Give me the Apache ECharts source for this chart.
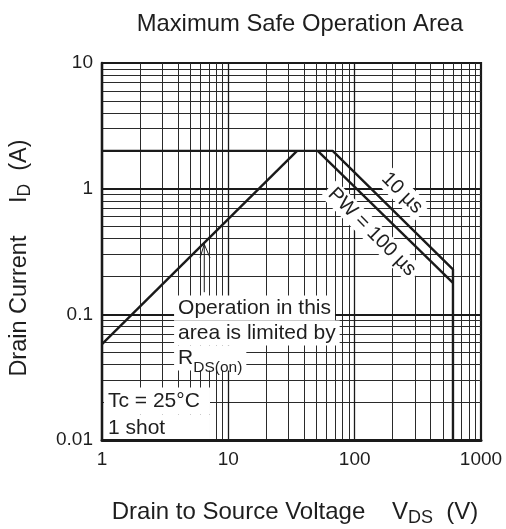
<!DOCTYPE html>
<html><head><meta charset="utf-8">
<script src="https://cdn.jsdelivr.net/npm/echarts@6/dist/echarts.min.js"></script>
<style>html,body{margin:0;padding:0;background:#fff}#c{width:506px;height:529px}</style>
</head><body><div id="c"></div>
<script>
// ---- data ----
const xDecades = [1, 10, 100];
const yDecades = [0.01, 0.1, 1];
const gridMultipliers = [2, 3, 4, 5, 6, 7, 8, 9];
const xMajorLines = [10, 100];
const yMajorLines = [0.1, 1];
const dcLimit = [[1, 0.058], [35, 2]];
const pw10us = [[1, 2], [67, 2], [600, 0.228], [600, 0.01]];
const pw100us = [[51, 2], [600, 0.178]];
const arrowShaft = [[6.45, 0.15], [6.45, 0.361]];
const arrowHead = [[5.97, 0.282], [6.45, 0.361], [7.16, 0.282]];
const curveLabels = [
  { text: '10 \u00b5s', at: [237, 0.924] },
  { text: 'PW = 100 \u00b5s', at: [137, 0.452] }
];
const noteLines = [
  { text: 'Operation in this', at: [3.72, 0.1123] },
  { text: 'area is limited by', at: [3.72, 0.0711] },
  { text: '{n|R}{s|DS(on)}', at: [3.72, 0.0449] }
];
const condLines = [
  { text: 'Tc = 25\u00b0C', at: [1.037, 0.0204] },
  { text: '1 shot', at: [1.037, 0.01247] }
];

// ---- build ----
const minorX = [], minorY = [];
xDecades.forEach(d => gridMultipliers.forEach(m => minorX.push(+(d * m).toPrecision(6))));
yDecades.forEach(d => gridMultipliers.forEach(m => minorY.push(+(d * m).toPrecision(6))));

const FONT = 'Liberation Sans, Arial, sans-serif';
const INK = '#1e1e1e';
const chart = echarts.init(document.getElementById('c'), null, { renderer: 'canvas' });

const gridLineStyle = { color: '#2a2a2a', width: 1, type: 'solid' };
const majorXStyle = { color: '#1a1a1a', width: 1.3, type: 'solid' };
const majorYStyle = { color: '#1a1a1a', width: 1.8, type: 'solid' };
const markLineData = []
  .concat(minorX.map(v => ({ xAxis: v, lineStyle: gridLineStyle })))
  .concat(minorY.map(v => ({ yAxis: v, lineStyle: gridLineStyle })))
  .concat(xMajorLines.map(v => ({ xAxis: v, lineStyle: majorXStyle })))
  .concat(yMajorLines.map(v => ({ yAxis: v, lineStyle: majorYStyle })));

const lineSeries = (data, width) => ({
  type: 'line', data: data, symbol: 'none', silent: true, z: 6,
  lineStyle: { color: '#1a1a1a', width: width || 2.4 }, animation: false
});

const subRich = (size, pad) => ({ fontFamily: FONT, fontSize: size, color: INK, padding: [pad, 0, 0, 0] });

chart.setOption({
  animation: false,
  textStyle: { fontFamily: FONT },
  title: {
    text: 'Maximum Safe Operation Area', left: 295, top: 7, textAlign: 'center',
    textStyle: { fontFamily: FONT, fontSize: 23.8, fontWeight: 'normal', color: INK }
  },
  grid: { left: 102, top: 63, width: 379, height: 377, outerBoundsMode: 'none', containLabel: false,
    show: true, borderColor: '#1a1a1a', borderWidth: 2.2, backgroundColor: 'transparent' },
  xAxis: {
    type: 'log', logBase: 10, min: 1, max: 1000, z: 10,
    axisLine: { show: true, lineStyle: { color: '#1a1a1a', width: 3 } },
    axisTick: { show: false },
    splitLine: { show: false },
    axisLabel: { fontFamily: FONT, fontSize: 19, color: INK, margin: 10, formatter: v => String(v) },
    name: 'Drain to Source Voltage    {v|V}{s|DS}  {v|(V)}',
    nameLocation: 'middle', nameGap: 58,
    nameTextStyle: { fontFamily: FONT, fontSize: 24, color: INK, padding: [0, 0, 0, 7],
      rich: { v: { fontFamily: FONT, fontSize: 24, color: INK }, s: subRich(18, 11) } }
  },
  yAxis: {
    type: 'log', logBase: 10, min: 0.01, max: 10, z: 10,
    axisLine: { show: true, lineStyle: { color: '#1a1a1a', width: 2.4 } },
    axisTick: { show: false },
    splitLine: { show: false },
    axisLabel: { fontFamily: FONT, fontSize: 19, color: INK, margin: 9, formatter: v => String(v) },
    name: 'Drain Current     {v|I}{s|D}  {v|(A)}',
    nameLocation: 'middle', nameGap: 68,
    nameTextStyle: { fontFamily: FONT, fontSize: 23.5, color: INK, padding: [0, 13, 0, 0],
      rich: { v: { fontFamily: FONT, fontSize: 23.5, color: INK }, s: subRich(17.5, 11) } }
  },
  series: [
    {
      type: 'line', data: [], silent: true, z: 1,
      markLine: { silent: true, z: 1, symbol: 'none', label: { show: false }, animation: false, data: markLineData }
    },
    {
      // drawn bottom row first so upper rows' boxes don't clip text below
      type: 'scatter', data: noteLines.slice().reverse().map(n => ({ value: n.at, name: n.text })), symbolSize: 0, silent: true, z: 4,
      itemStyle: { opacity: 1 },
      label: {
        show: true, position: 'inside', align: 'left', verticalAlign: 'middle',
        formatter: p => p.name, fontFamily: FONT, fontSize: 21, lineHeight: 22, color: INK,
        backgroundColor: '#fff', padding: [2, 4, 1, 4],
        rich: {
          n: { fontFamily: FONT, fontSize: 21, lineHeight: 22, color: INK },
          s: subRich(15.5, 18)
        }
      }
    },
    {
      type: 'scatter', data: condLines.slice().reverse().map(n => ({ value: n.at, name: n.text })), symbolSize: 0, silent: true, z: 4,
      itemStyle: { opacity: 1 },
      label: {
        show: true, position: 'inside', align: 'left', verticalAlign: 'middle',
        formatter: p => p.name, fontFamily: FONT, fontSize: 21, lineHeight: 22, color: INK,
        backgroundColor: '#fff', padding: [5, 8, 0, 4], width: 94
      }
    },
    {
      type: 'scatter', data: curveLabels.map(n => ({ value: n.at, name: n.text })), symbolSize: 0, silent: true, z: 4,
      itemStyle: { opacity: 1 },
      label: {
        show: true, position: 'inside', align: 'center', verticalAlign: 'middle', rotate: -45,
        formatter: p => p.name, fontFamily: FONT, fontSize: 20, color: INK,
        backgroundColor: '#fff', padding: [1, 4, 1, 4]
      }
    },
    lineSeries(dcLimit),
    lineSeries(pw10us),
    lineSeries(pw100us),
    lineSeries(arrowShaft, 1),
    lineSeries(arrowHead, 1)
  ]
});
</script></body></html>
